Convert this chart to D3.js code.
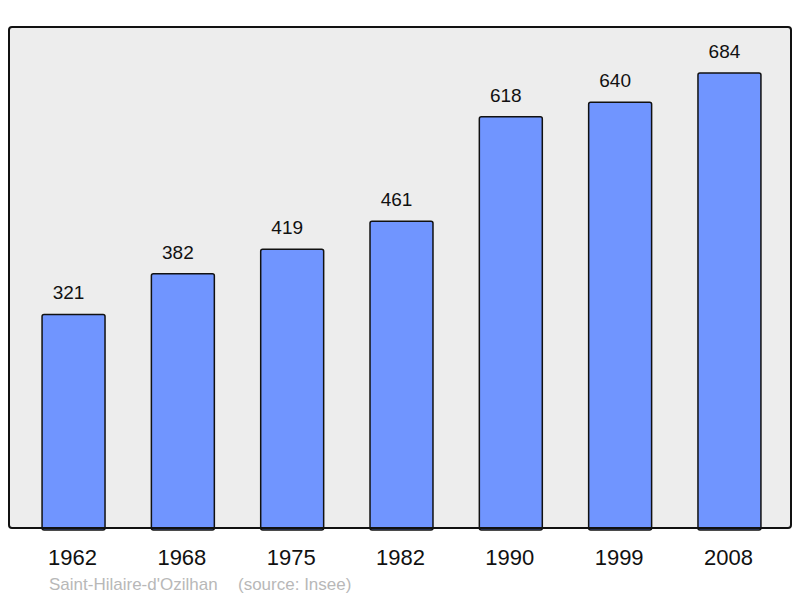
<!DOCTYPE html>
<html>
<head>
<meta charset="utf-8">
<script src="https://cdn.jsdelivr.net/npm/d3@7"></script>
<style>
  body { margin: 0; background: #fff; }
  text { font-family: "Liberation Sans", Arial, sans-serif; }
</style>
</head>
<body>
<div id="chart"></div>
<script>
var years = ['1962', '1968', '1975', '1982', '1990', '1999', '2008'],
    population = [321, 382, 419, 461, 618, 640, 684],
    commune = "Saint-Hilaire-d'Ozilhan",
    source = '(source: Insee)'

var width = 800,
    height = 598,
    frame = {left: 9, top: 27, right: 791, bottom: 528}

var svg = d3.select('#chart').append('svg')
    .attr('width', width)
    .attr('height', height)

var x = d3.scaleBand()
    .domain(years)
    .range([12, 791])
    .paddingInner(0.424)
    .paddingOuter(0.275)

var y = d3.scaleLinear()
    .domain([0, 753])
    .range([frame.bottom, frame.top])

// plot background
svg.append('rect')
    .attr('x', frame.left)
    .attr('y', frame.top)
    .attr('width', frame.right - frame.left)
    .attr('height', frame.bottom - frame.top)
    .attr('rx', 3)
    .attr('fill', '#ededed')

var rows = years.map(function(d, i) { return {year: d, value: population[i]} })

svg.selectAll('.bar')
    .data(rows)
  .enter().append('rect')
    .attr('class', 'bar')
    .attr('x', function(d) { return x(d.year) })
    .attr('y', function(d) { return y(d.value) })
    .attr('width', x.bandwidth())
    .attr('height', function(d) { return y(0) - y(d.value) + 2 })
    .attr('rx', 2)
    .attr('fill', '#7095ff')
    .attr('stroke', '#111')
    .attr('stroke-width', 1.5)

// labels sit a bit left of the bar centre, like the original
svg.selectAll('.value')
    .data(rows)
  .enter().append('text')
    .attr('class', 'value')
    .attr('x', function(d) { return x(d.year) + x.bandwidth() / 2 - 5 })
    .attr('y', function(d) { return y(d.value) - 15 })
    .attr('text-anchor', 'middle')
    .attr('font-size', 19)
    .attr('fill', '#111')
    .text(function(d) { return d.value })

// frame on top
svg.append('rect')
    .attr('x', frame.left)
    .attr('y', frame.top)
    .attr('width', frame.right - frame.left)
    .attr('height', frame.bottom - frame.top)
    .attr('rx', 3)
    .attr('fill', 'none')
    .attr('stroke', '#111')
    .attr('stroke-width', 2)

var xAxis = d3.axisBottom(x).tickSize(0).tickPadding(0)
var gx = svg.append('g')
    .attr('transform', 'translate(0,' + frame.bottom + ')')
    .call(xAxis)
gx.select('.domain').remove()
gx.selectAll('text')
    .attr('x', -1)
    .attr('y', 37)
    .attr('dy', 0)
    .attr('font-size', 22)
    .attr('fill', '#111')
    .style('font-family', '"Liberation Sans", Arial, sans-serif')

svg.append('text')
    .attr('x', 49)
    .attr('y', 590)
    .attr('font-size', 17)
    .attr('fill', '#b8b8b8')
    .text(commune)

svg.append('text')
    .attr('x', 238)
    .attr('y', 590)
    .attr('font-size', 17)
    .attr('fill', '#b8b8b8')
    .text(source)
</script>
</body>
</html>
